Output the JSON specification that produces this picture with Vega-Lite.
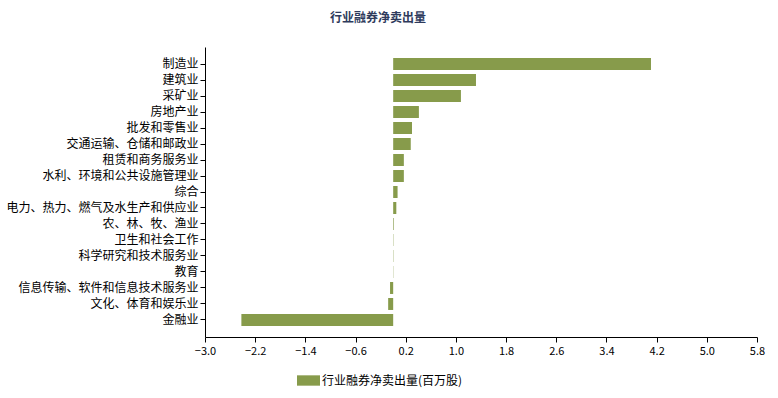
{
  "$schema": "https://vega.github.io/schema/vega-lite/v6.json",
  "autosize": "none",
  "width": 552,
  "height": 290,
  "padding": {"left": 205, "top": 47, "right": 21, "bottom": 61},
  "background": "white",
  "title": {
    "text": "行业融券净卖出量",
    "font": "Noto Sans CJK SC",
    "fontSize": 12,
    "fontWeight": "bold",
    "color": "#2E3A5C",
    "anchor": "middle",
    "dx": -103,
    "offset": 22
  },
  "config": {
    "view": {"stroke": null},
    "axis": {"grid": false, "domainColor": "#000", "tickColor": "#000", "labelColor": "#000", "labelFont": "Noto Sans CJK SC", "labelFontSize": 11, "titleFont": "Noto Sans CJK SC"}
  },
  "data": {
    "values": [
      {"industry": "制造业", "value": 4.11, "series": "行业融券净卖出量(百万股)"},
      {"industry": "建筑业", "value": 1.32, "series": "行业融券净卖出量(百万股)"},
      {"industry": "采矿业", "value": 1.08, "series": "行业融券净卖出量(百万股)"},
      {"industry": "房地产业", "value": 0.41, "series": "行业融券净卖出量(百万股)"},
      {"industry": "批发和零售业", "value": 0.30, "series": "行业融券净卖出量(百万股)"},
      {"industry": "交通运输、仓储和邮政业", "value": 0.28, "series": "行业融券净卖出量(百万股)"},
      {"industry": "租赁和商务服务业", "value": 0.17, "series": "行业融券净卖出量(百万股)"},
      {"industry": "水利、环境和公共设施管理业", "value": 0.17, "series": "行业融券净卖出量(百万股)"},
      {"industry": "综合", "value": 0.07, "series": "行业融券净卖出量(百万股)"},
      {"industry": "电力、热力、燃气及水生产和供应业", "value": 0.05, "series": "行业融券净卖出量(百万股)"},
      {"industry": "农、林、牧、渔业", "value": 0.01, "series": "行业融券净卖出量(百万股)"},
      {"industry": "卫生和社会工作", "value": 0.005, "series": "行业融券净卖出量(百万股)"},
      {"industry": "科学研究和技术服务业", "value": 0.005, "series": "行业融券净卖出量(百万股)"},
      {"industry": "教育", "value": 0.004, "series": "行业融券净卖出量(百万股)"},
      {"industry": "信息传输、软件和信息技术服务业", "value": -0.05, "series": "行业融券净卖出量(百万股)"},
      {"industry": "文化、体育和娱乐业", "value": -0.08, "series": "行业融券净卖出量(百万股)"},
      {"industry": "金融业", "value": -2.42, "series": "行业融券净卖出量(百万股)"}
    ]
  },
  "mark": {"type": "bar"},
  "encoding": {
    "y": {
      "field": "industry",
      "type": "nominal",
      "sort": null,
      "title": null,
      "scale": {"paddingInner": 0.25, "paddingOuter": 0.69},
      "axis": {"tickSize": 5, "labelPadding": 2, "labelFontSize": 12, "labelLimit": 300}
    },
    "x": {
      "field": "value",
      "type": "quantitative",
      "title": null,
      "scale": {"domain": [-3.0, 5.8], "nice": false, "zero": false},
      "axis": {"values": [-3.0, -2.2, -1.4, -0.6, 0.2, 1.0, 1.8, 2.6, 3.4, 4.2, 5.0, 5.8], "format": ".1f", "tickSize": 5, "labelPadding": 3, "labelFontSize": 11, "labelFlush": false}
    },
    "color": {
      "field": "series",
      "type": "nominal",
      "scale": {"range": ["#879B4B"]},
      "legend": {
        "title": null,
        "orient": "none",
        "legendX": 92,
        "legendY": 322,
        "symbolType": "M-1,-0.45L1,-0.45L1,0.45L-1,0.45Z",
        "symbolSize": 529,
        "symbolStrokeWidth": 0,
        "symbolOpacity": 1,
        "labelFont": "Noto Sans CJK SC",
        "labelFontSize": 12,
        "labelColor": "#000",
        "labelOffset": 2
      }
    }
  }
}
